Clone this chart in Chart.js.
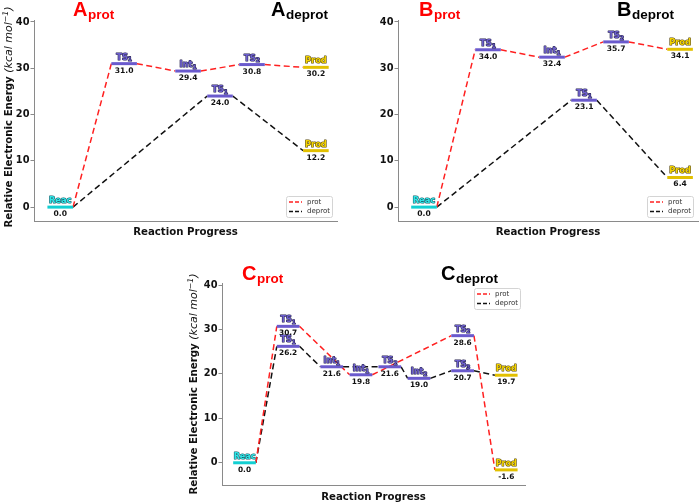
<!DOCTYPE html>
<html><head><meta charset="utf-8">
<script src="https://cdn.jsdelivr.net/npm/chart.js@4.4.1/dist/chart.umd.min.js"></script>
<style>
html,body{margin:0;padding:0;background:#fff;width:700px;height:502px;overflow:hidden;position:relative;}
canvas{position:absolute;}
</style></head><body>
<canvas id="cA" width="350" height="250" style="left:0;top:0;width:350px;height:250px"></canvas>
<canvas id="cB" width="350" height="250" style="left:350px;top:0;width:350px;height:250px"></canvas>
<canvas id="cC" width="350" height="252" style="left:180px;top:250px;width:350px;height:252px"></canvas>
<script>
// ---------------- DATA ----------------
const seriesNames = ['prot', 'deprot'];
const tickValues = [0, 10, 20, 30, 40];
const xAxisTitle = 'Reaction Progress';
const yTitleMain = 'Relative Electronic Energy ';
const yTitleUnit = '(kcal mol';
const yTitleSup = '\u22121';
const yTitleEnd = ')';

// Panel A
const aProtStates = ['Reac', 'TS1', 'Int1', 'TS2', 'Prod'];
const aProtPos = [0, 1, 2, 3, 4];
const aProtValues = [0.0, 31.0, 29.4, 30.8, 30.2];
const aDeprotStates = ['Reac', 'TS1', 'Prod'];
const aDeprotPos = [0, 2.5, 4];
const aDeprotValues = [0.0, 24.0, 12.2];

// Panel B
const bProtStates = ['Reac', 'TS1', 'Int1', 'TS2', 'Prod'];
const bProtPos = [0, 1, 2, 3, 4];
const bProtValues = [0.0, 34.0, 32.4, 35.7, 34.1];
const bDeprotStates = ['Reac', 'TS1', 'Prod'];
const bDeprotPos = [0, 2.5, 4];
const bDeprotValues = [0.0, 23.1, 6.4];

// Panel C
const cProtStates = ['Reac', 'TS1', 'Int1', 'TS2', 'Prod'];
const cProtPos = [0, 1, 2.67, 5, 6];
const cProtValues = [0.0, 30.7, 19.8, 28.6, -1.6];
const cDeprotStates = ['Reac', 'TS1', 'Int1', 'TS2', 'Int2', 'TS3', 'Prod'];
const cDeprotPos = [0, 1, 2, 3.33, 4, 5, 6];
const cDeprotValues = [0.0, 26.2, 21.6, 21.6, 19.0, 20.7, 19.7];

const panelLetters = ['A', 'B', 'C'];

// ---------------- STYLE ----------------
const FONT = "'DejaVu Sans', sans-serif";
const TITLE_FONT = "'Liberation Sans', Arial, sans-serif";
const SERIES_COLORS = { prot: '#ff2020', deprot: '#111111' };
const AXIS_COLOR = '#8a8a8a';
function stateColor(name) {
  if (name === 'Reac') return { bar: '#12cfd2', text: '#2ee6e6', edge: '#1a5c6a' };
  if (name === 'Prod') return { bar: '#e2c000', text: '#f4d400', edge: '#5a4a10' };
  return { bar: '#6a5acd', text: '#6e60d0', edge: '#26224e' };
}

function buildDatasets(series, hw) {
  const bars = [];
  const seen = new Set();
  series.forEach(s => s.states.forEach((st, i) => {
    const key = s.pos[i] + '|' + s.values[i];
    if (seen.has(key)) return;
    seen.add(key);
    bars.push({
      label: st, isLevel: true, stateName: st, levelValue: s.values[i], levelPos: s.pos[i],
      data: [{ x: s.pos[i] - hw, y: s.values[i] }, { x: s.pos[i] + hw, y: s.values[i] }],
      borderColor: stateColor(st).bar, borderWidth: 3, pointRadius: 0, borderCapStyle: 'butt'
    });
  }));
  const paths = series.map(s => {
    const pts = [];
    s.pos.forEach((p, i) => { pts.push({ x: p - hw, y: s.values[i] }); pts.push({ x: p + hw, y: s.values[i] }); });
    return {
      label: s.name, data: pts, borderColor: SERIES_COLORS[s.name], borderWidth: 1.5,
      borderDash: [6, 3.5], pointRadius: 0, tension: 0,
      segment: { borderColor: c => (c.p0DataIndex % 2 === 0 ? 'rgba(0,0,0,0)' : undefined) }
    };
  });
  return bars.concat(paths);
}

function drawStateName(ctx, name, cx, baseline, size, col) {
  const m = name.match(/^([A-Za-z]+)(\d*)$/);
  const main = m[1], sub = m[2];
  ctx.font = `bold ${size}px ${FONT}`;
  const w1 = ctx.measureText(main).width;
  ctx.font = `bold ${size * 0.72}px ${FONT}`;
  const w2 = sub ? ctx.measureText(sub).width : 0;
  const x = cx - (w1 + w2) / 2;
  ctx.textAlign = 'left'; ctx.textBaseline = 'alphabetic';
  ctx.lineJoin = 'round'; ctx.lineWidth = 1.2; ctx.strokeStyle = col.edge; ctx.fillStyle = col.text;
  ctx.font = `bold ${size}px ${FONT}`;
  ctx.strokeText(main, x, baseline); ctx.fillText(main, x, baseline);
  if (sub) {
    ctx.font = `bold ${size * 0.72}px ${FONT}`;
    ctx.strokeText(sub, x + w1, baseline + 1.8); ctx.fillText(sub, x + w1, baseline + 1.8);
  }
}

const panelCfg = {};

const energyPlugin = {
  id: 'energy',
  afterDatasetsDraw(chart) {
    const cfg = panelCfg[chart.canvas.id];
    const ctx = chart.ctx;
    const xs = chart.scales.x, ys = chart.scales.y;
    ctx.save();
    chart.data.datasets.forEach(ds => {
      if (!ds.isLevel) return;
      const cx = xs.getPixelForValue(ds.levelPos);
      const cy = ys.getPixelForValue(ds.levelValue);
      drawStateName(ctx, ds.stateName, cx, cy - 4, cfg.labelSize, stateColor(ds.stateName));
      ctx.font = `bold ${cfg.valueSize}px ${FONT}`;
      ctx.fillStyle = '#111'; ctx.textAlign = 'center'; ctx.textBaseline = 'alphabetic';
      ctx.fillText(ds.levelValue.toFixed(1), cx, cy + 9);
    });
    ctx.restore();
  },
  afterDraw(chart) {
    const cfg = panelCfg[chart.canvas.id];
    const ctx = chart.ctx;
    const area = chart.chartArea;
    ctx.save();
    // legend
    const w = 46, h = 21;
    const x1 = area.right - 5 - w;
    const y1 = cfg.legendPos === 'upper' ? area.top + 5 : area.bottom - 4 - h;
    ctx.beginPath();
    if (ctx.roundRect) ctx.roundRect(x1 + 0.5, y1 + 0.5, w, h, 2); else ctx.rect(x1 + 0.5, y1 + 0.5, w, h);
    ctx.fillStyle = 'rgba(255,255,255,0.85)'; ctx.fill();
    ctx.strokeStyle = '#d4d4d4'; ctx.lineWidth = 1; ctx.stroke();
    seriesNames.forEach((n, i) => {
      const ly = y1 + 6 + i * 9.5;
      ctx.beginPath(); ctx.setLineDash([4, 2]); ctx.lineWidth = 1.5; ctx.strokeStyle = SERIES_COLORS[n];
      ctx.moveTo(x1 + 3, ly); ctx.lineTo(x1 + 16, ly); ctx.stroke(); ctx.setLineDash([]);
      ctx.font = `7px ${FONT}`; ctx.fillStyle = '#333'; ctx.textAlign = 'left'; ctx.textBaseline = 'middle';
      ctx.fillText(n, x1 + 21, ly);
    });
    // panel titles
    const drawTitle = (x, sub, color) => {
      ctx.fillStyle = color; ctx.textAlign = 'left'; ctx.textBaseline = 'alphabetic';
      ctx.font = `bold 20px ${TITLE_FONT}`;
      ctx.fillText(cfg.letter, x, cfg.titleBase);
      const wl = ctx.measureText(cfg.letter).width;
      ctx.font = `bold 13.5px ${TITLE_FONT}`;
      ctx.fillText(sub, x + wl + 0.5, cfg.titleBase + 3);
    };
    drawTitle(cfg.protX, seriesNames[0], '#ff0000');
    drawTitle(cfg.deprotX, seriesNames[1], '#000000');
    // y axis title
    if (cfg.yLabel) {
      ctx.translate(cfg.yLabel.x, cfg.yLabel.y);
      ctx.rotate(-Math.PI / 2);
      const fb = `bold 10.2px ${FONT}`, fi = `italic 11px ${FONT}`, fs = `italic 7.8px ${FONT}`;
      ctx.font = fb; const w1 = ctx.measureText(yTitleMain).width;
      ctx.font = fi; const w2 = ctx.measureText(yTitleUnit).width; const w4 = ctx.measureText(yTitleEnd).width;
      ctx.font = fs; const w3 = ctx.measureText(yTitleSup).width;
      let x = -(w1 + w2 + w3 + w4) / 2;
      const b = 3.8;
      ctx.fillStyle = '#111'; ctx.textAlign = 'left'; ctx.textBaseline = 'alphabetic';
      ctx.font = fb; ctx.fillText(yTitleMain, x, b); x += w1;
      ctx.font = fi; ctx.fillText(yTitleUnit, x, b); x += w2;
      ctx.font = fs; ctx.fillText(yTitleSup, x, b - 4.2); x += w3;
      ctx.font = fi; ctx.fillText(yTitleEnd, x, b);
    }
    ctx.restore();
  }
};

function makeChart(id, cfg) {
  panelCfg[id] = cfg;
  return new Chart(document.getElementById(id), {
    type: 'line',
    data: { datasets: buildDatasets(cfg.series, cfg.hw) },
    options: {
      responsive: false, animation: false, devicePixelRatio: 1,
      layout: { padding: cfg.padding },
      plugins: { legend: { display: false }, tooltip: { enabled: false } },
      scales: {
        x: {
          type: 'linear', min: cfg.xMin, max: cfg.xMax,
          ticks: { display: false },
          grid: { display: true, drawOnChartArea: false, drawTicks: false, color: AXIS_COLOR },
          border: { display: true, color: AXIS_COLOR, width: 1 },
          title: { display: true, text: xAxisTitle, color: '#111',
            font: { family: FONT, size: 10.2, weight: 'bold', lineHeight: 1 },
            padding: { top: 0, bottom: cfg.xTitlePad } },
          afterFit: s => { s.height = cfg.xAxisH; }
        },
        y: {
          type: 'linear', min: cfg.yMin, max: cfg.yMax,
          afterBuildTicks: s => { s.ticks = tickValues.map(v => ({ value: v })); },
          ticks: { color: '#111', padding: 1, font: { family: FONT, size: 9.8, weight: 'bold' } },
          grid: { display: true, drawOnChartArea: false, drawTicks: true, tickLength: 3.5, color: AXIS_COLOR },
          border: { display: true, color: AXIS_COLOR, width: 1 },
          afterFit: s => { s.width = cfg.yAxisW; }
        }
      }
    },
    plugins: [energyPlugin]
  });
}

makeChart('cA', {
  series: [
    { name: seriesNames[0], states: aProtStates, pos: aProtPos, values: aProtValues },
    { name: seriesNames[1], states: aDeprotStates, pos: aDeprotPos, values: aDeprotValues }
  ],
  hw: 0.2, xMin: -0.41, xMax: 4.33, yMin: -3, yMax: 40.43,
  padding: { left: 0, top: 20, right: 13, bottom: 0 }, yAxisW: 34, xAxisH: 29, xTitlePad: 13,
  labelSize: 8.3, valueSize: 7.6, legendPos: 'lower',
  letter: panelLetters[0], protX: 73, deprotX: 271, titleBase: 16,
  yLabel: { x: 8.5, y: 117 }
});
makeChart('cB', {
  series: [
    { name: seriesNames[0], states: bProtStates, pos: bProtPos, values: bProtValues },
    { name: seriesNames[1], states: bDeprotStates, pos: bDeprotPos, values: bDeprotValues }
  ],
  hw: 0.2, xMin: -0.406, xMax: 4.28, yMin: -3, yMax: 40.43,
  padding: { left: 0, top: 20, right: 2, bottom: 0 }, yAxisW: 48, xAxisH: 29, xTitlePad: 13,
  labelSize: 8.3, valueSize: 7.6, legendPos: 'lower',
  letter: panelLetters[1], protX: 69, deprotX: 267, titleBase: 16,
  yLabel: null
});
makeChart('cC', {
  series: [
    { name: seriesNames[0], states: cProtStates, pos: cProtPos, values: cProtValues },
    { name: seriesNames[1], states: cDeprotStates, pos: cDeprotPos, values: cDeprotValues }
  ],
  hw: 0.26, xMin: -0.516, xMax: 6.43, yMin: -5, yMax: 40.45,
  padding: { left: 0, top: 33, right: 5, bottom: 0 }, yAxisW: 42, xAxisH: 17, xTitlePad: 0,
  labelSize: 8, valueSize: 7.4, legendPos: 'upper',
  letter: panelLetters[2], protX: 62, deprotX: 261, titleBase: 30,
  yLabel: { x: 13.5, y: 134 }
});
</script>
</body></html>
